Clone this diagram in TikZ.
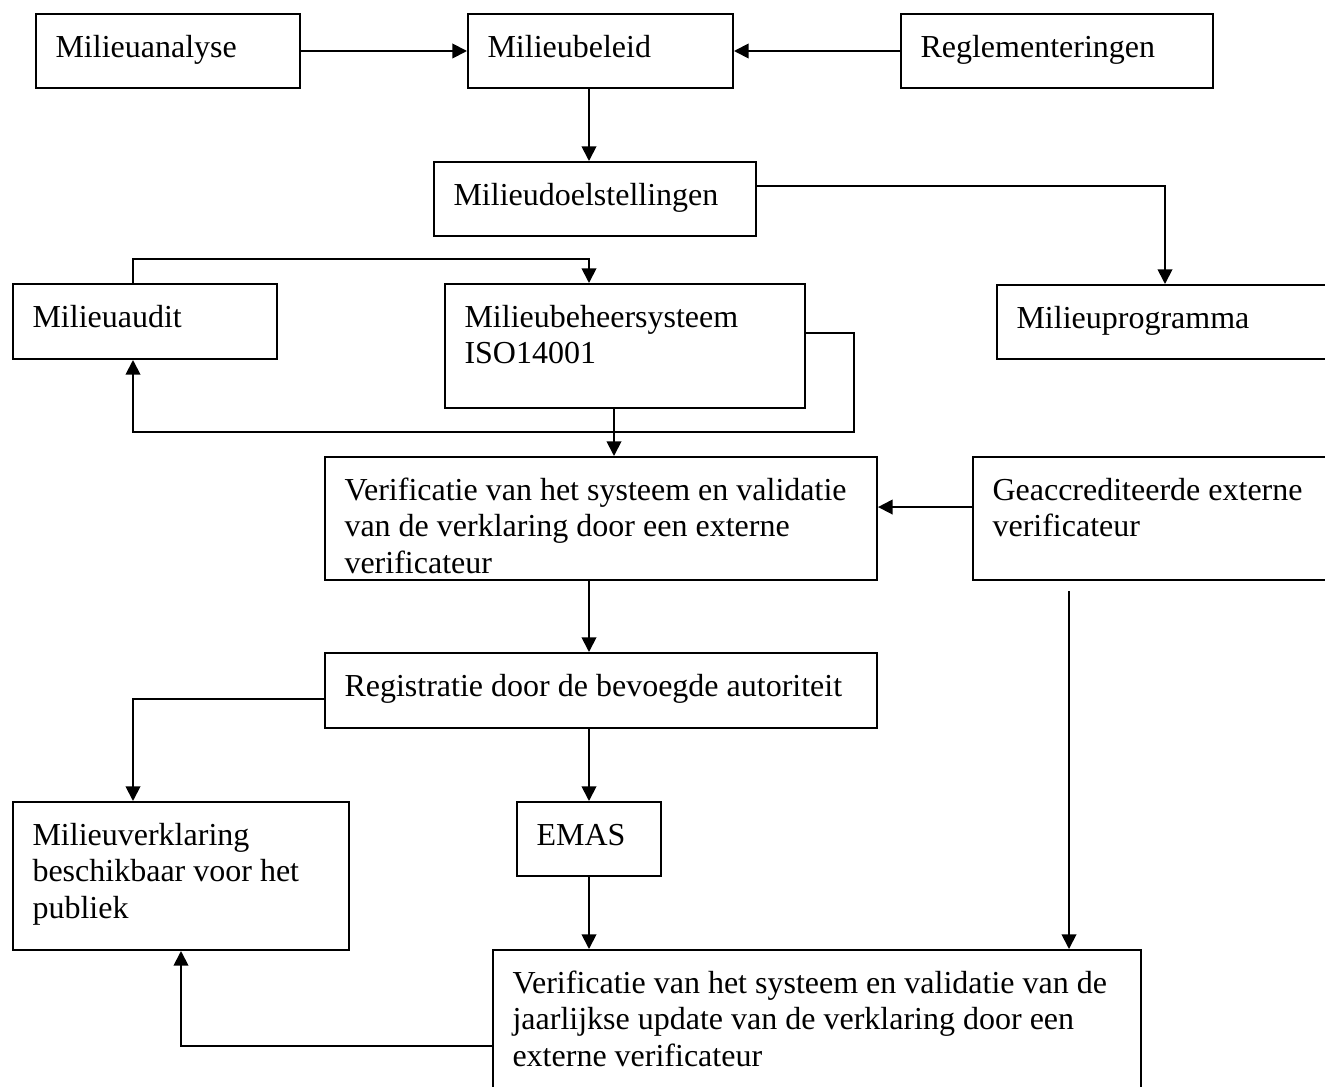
\documentclass[tikz,border=0pt]{standalone}
\usepackage{fontspec}
\setmainfont{Liberation Serif}
\usetikzlibrary{arrows.meta,fit}

\begin{document}
\begin{tikzpicture}[x=0.375pt, y=-0.375pt,
    box/.style={draw, line width=0.75pt, inner sep=0pt},
    txt/.style={anchor=north west, align=left, inner xsep=7.5pt, inner ysep=6.7pt,
      font=\fontsize{12pt}{13.8pt}\selectfont},
    arr/.style={line width=0.7pt, -{Triangle[length=5.5pt, width=5.5pt]}}]
      \useasboundingbox (0,0) rectangle (1325,1087);
      % boxes
      \node (ana) [box, fit={(36,14) (300,88)}, label={[txt, name=anat]north west:{\strut Milieuanalyse}}] {};
      \node (bel) [box, fit={(468,14) (733,88)}, label={[txt, name=belt]north west:{\strut Milieubeleid}}] {};
      \node (reg) [box, fit={(901,14) (1213,88)}, label={[txt, name=regt]north west:{\strut Reglementeringen}}] {};
      \node (doel) [box, fit={(434,162) (756,236)}, label={[txt, name=doelt]north west:{\strut Milieudoelstellingen}}] {};
      \node (aud) [box, fit={(13,284) (277,359)}, label={[txt, name=audt]north west:{\strut Milieuaudit}}] {};
      \node (mbs) [box, fit={(445,284) (805,408)}, label={[txt, name=mbst]north west:{\strut Milieubeheersysteem\\ISO14001}}] {};
      \node (prog) [box, fit={(997,285) (1333,359)}, label={[txt, name=progt]north west:{\strut Milieuprogramma}}] {};
      \node (ver) [box, fit={(325,457) (877,580)}, label={[txt, name=vert]north west:{\strut Verificatie van het systeem en validatie\\van de verklaring door een externe\\verificateur}}] {};
      \node (gea) [box, fit={(973,457) (1333,580)}, label={[txt, name=geat]north west:{\strut Geaccrediteerde externe\\verificateur}}] {};
      \node (regis) [box, fit={(325,653) (877,728)}, label={[txt, name=regist]north west:{\strut Registratie door de bevoegde autoriteit}}] {};
      \node (mv) [box, fit={(13,802) (349,950)}, label={[txt, name=mvt]north west:{\strut Milieuverklaring\\beschikbaar voor het\\publiek}}] {};
      \node (emas) [box, fit={(517,802) (661,876)}, label={[txt, name=emast]north west:{\strut EMAS}}] {};
      \node (ver2) [box, fit={(493,950) (1141,1100)}, label={[txt, name=ver2t]north west:{\strut Verificatie van het systeem en validatie van de\\jaarlijkse update van de verklaring door een\\externe verificateur}}] {};
      % columns for the vertical connectors
      \coordinate (spine) at (589,0);
      \coordinate (lcol) at (133,0);
      \coordinate (mcol) at (614,0);
      \coordinate (gcol) at (1069,0);
      % connectors
      \draw[arr] (ana.east) -- (bel.west);
      \draw[arr] (reg.west) -- (bel.east);
      \draw[arr] (bel.south -| spine) -- (doel.north -| spine);
      \draw[arr] ([yshift=4.9pt]doel.east) -| (prog.north);
      \draw[arr] (aud.north -| lcol) -- ++(0,-24) -| (mbs.north -| spine);
      \draw[arr] ([yshift=4.9pt]mbs.east) -| ++(48,99) -| (aud.south -| lcol);
      \draw[arr] (mbs.south -| mcol) -- (ver.north -| mcol);
      \draw[arr] ([yshift=4.3pt]gea.west) -- ([yshift=4.3pt]ver.east);
      \draw[arr] (ver.south -| spine) -- (regis.north -| spine);
      \draw[arr] ([yshift=-3.2pt]regis.west) -| (mv.north -| lcol);
      \draw[arr] (regis.south -| spine) -- (emas.north -| spine);
      \draw[arr] (emas.south -| spine) -- (ver2.north -| spine);
      \draw[arr] (gea.south -| gcol) ++(0,10) -- (ver2.north -| gcol);
      \draw[arr] ([yshift=-8pt]ver2.west) -| (mv.south);
\end{tikzpicture}
\end{document}
